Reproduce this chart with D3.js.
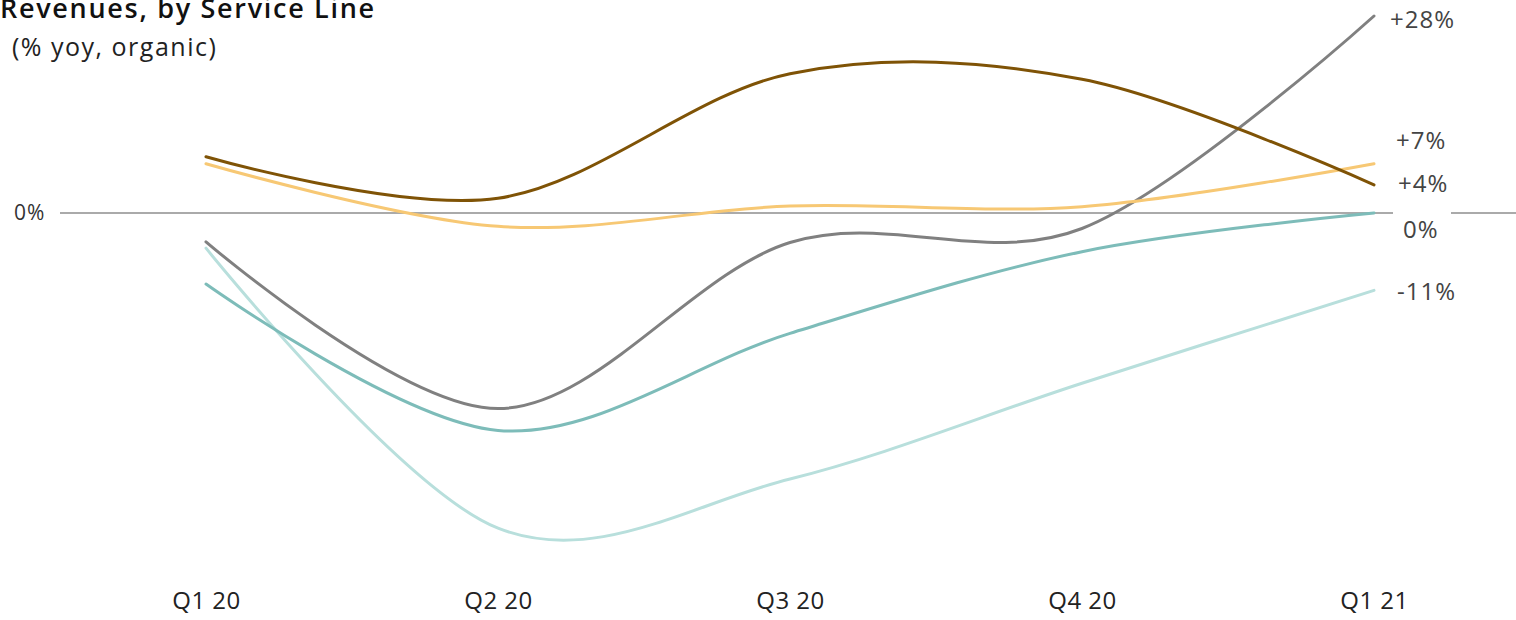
<!DOCTYPE html>
<html>
<head>
<meta charset="utf-8">
<script src="https://cdn.jsdelivr.net/npm/d3@7"></script>
<style>
  html, body { margin: 0; padding: 0; background: #fff; }
  svg { display: block; font-family: "Open Sans", Lato, sans-serif; }
</style>
</head>
<body>
<svg id="chart" width="1516" height="620"></svg>
<script>
const quarters = ["Q1 20", "Q2 20", "Q3 20", "Q4 20", "Q1 21"];
const brownValues = [8.0, 2.1, 19.8, 19.0, 4];
const yellowValues = [7.0, -1.9, 1.0, 0.9, 7];
const grayValues = [-4.1, -27.8, -4.2, -2.2, 28];
const tealValues = [-10.1, -30.9, -17.1, -5.5, 0];
const lightTealValues = [-5.0, -44.8, -37.8, -24.2, -11];
const endLabels = ["+4%", "+7%", "+28%", "0%", "-11%"];
const yTickLabel = "0%";
const title = "Revenues, by Service Line";
const subtitle = "(% yoy, organic)";

const colors = ["#7f5306", "#f7c874", "#808080", "#7dbcb9", "#b8dfdc"];
const allValues = [brownValues, yellowValues, grayValues, tealValues, lightTealValues];

const svg = d3.select("#chart");
const FONT = "'Open Sans', Lato, sans-serif";

const x = d3.scalePoint().domain(quarters).range([206, 1374]);
const y = d3.scaleLinear().domain([0, 28]).range([213, 16]);

// title
svg.append("text").attr("x", 0).attr("y", 18)
  .attr("font-size", 27).attr("font-weight", 600).attr("fill", "#111")
  .attr("letter-spacing", 1.7)
  .text(title);
svg.append("text").attr("x", 12).attr("y", 56)
  .attr("font-size", 25).attr("fill", "#222")
  .attr("letter-spacing", 1.5)
  .text(subtitle);

// zero line with gap for the end label
const zeroY = y(0);
svg.append("line").attr("x1", 60).attr("x2", 1393)
  .attr("y1", zeroY).attr("y2", zeroY)
  .attr("stroke", "#aaa").attr("stroke-width", 2);
svg.append("line").attr("x1", 1451).attr("x2", 1516)
  .attr("y1", zeroY).attr("y2", zeroY)
  .attr("stroke", "#aaa").attr("stroke-width", 2);

svg.append("text").attr("x", 14).attr("y", zeroY).attr("dy", "0.35em")
  .attr("font-size", 21).attr("letter-spacing", 1).attr("fill", "#333").text(yTickLabel);

// x axis labels
const xAxis = d3.axisBottom(x).tickSize(0).tickPadding(0);
const gx = svg.append("g").attr("transform", "translate(0,592)").call(xAxis);
gx.select(".domain").remove();
gx.selectAll("text").attr("font-size", 24).attr("fill", "#222")
  .attr("letter-spacing", 0.5)
  .attr("font-family", FONT);

// lines
const line = d3.line()
  .x((d, i) => x(quarters[i]))
  .y(d => y(d))
  .curve(d3.curveCatmullRom.alpha(0));

const order = [4, 3, 2, 1, 0];
order.forEach(k => {
  svg.append("path").datum(allValues[k])
    .attr("d", line)
    .attr("fill", "none")
    .attr("stroke", colors[k])
    .attr("stroke-width", 3)
    .attr("stroke-linecap", "round");
});

// end labels
const labelY = [184, 141, 20, 230, 292];
const labelX = [1398, 1396, 1390, 1403, 1397];
endLabels.forEach((t, k) => {
  svg.append("text").attr("x", labelX[k]).attr("y", labelY[k])
    .attr("dy", "0.35em")
    .attr("font-size", 24).attr("letter-spacing", 1)
    .attr("fill", "#444").text(t);
});
</script>
</body>
</html>
